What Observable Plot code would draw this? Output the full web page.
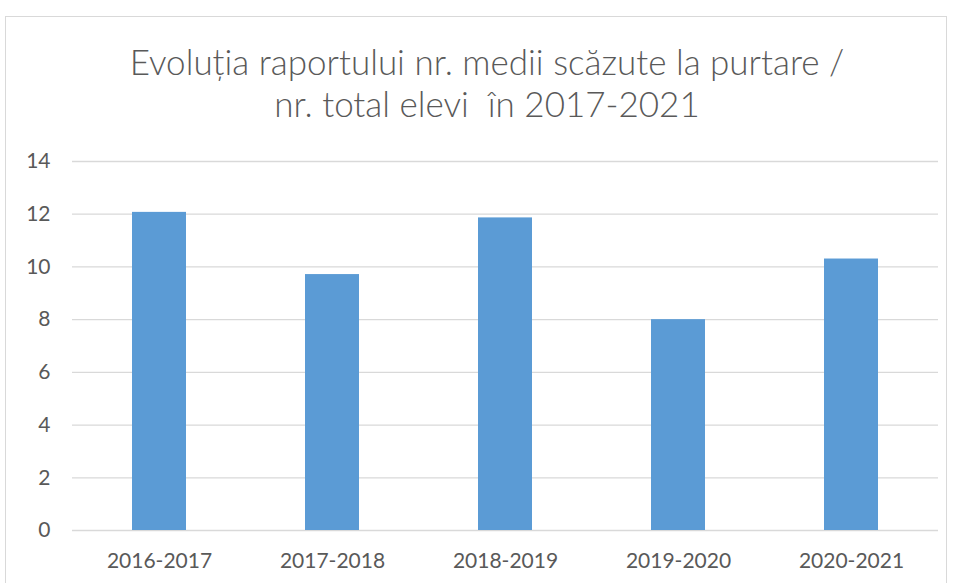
<!DOCTYPE html>
<html>
<head>
<meta charset="utf-8">
<script src="https://cdn.jsdelivr.net/npm/d3@7"></script>
<script src="https://cdn.jsdelivr.net/npm/@observablehq/plot@0.6"></script>
<style>
  html, body { margin: 0; padding: 0; background: #fff; }
  #wrap { position: relative; width: 953px; height: 583px; overflow: hidden; }
  #frame { position: absolute; left: 5px; top: 16px; width: 942px; height: 600px; border: 1px solid #d9d9d9; box-sizing: border-box; }
  #title { position: absolute; left: 16px; width: 942px; top: 40px; text-align: center; font-family: Lato, "Noto Sans", sans-serif; font-weight: 300; font-size: 35px; line-height: 42px; color: #595959; }
  #chart { position: absolute; left: 0; top: 0; }
  #chart svg text { font-size: 21px; fill: #595959; }
</style>
</head>
<body>
<div id="wrap">
  <div id="frame"></div>
  <div id="title">Evoluția raportului nr. medii scăzute la purtare /<br>nr. total elevi&nbsp; în 2017-2021</div>
  <div id="chart"></div>
</div>
<script>
const years = ["2016-2017", "2017-2018", "2018-2019", "2019-2020", "2020-2021"];
const values = [12.07, 9.71, 11.86, 8.0, 10.3];
const yTicks = [0, 2, 4, 6, 8, 10, 12, 14];

const data = years.map((y, i) => ({year: y, value: values[i]}));

const plot = Plot.plot({
  width: 953,
  height: 583,
  marginTop: 161,
  marginBottom: 53,
  marginLeft: 72,
  marginRight: 15,
  style: {fontFamily: "Lato, 'Noto Sans', sans-serif", fontSize: "21px", color: "#595959", background: "transparent"},
  x: {domain: years, paddingInner: 0.69, paddingOuter: 0.345, label: null},
  y: {domain: [0, 14], label: null},
  marks: [
    Plot.ruleY(yTicks, {stroke: "#d9d9d9", strokeWidth: 1.3}),
    Plot.barY(data, {x: "year", y: "value", fill: "#5B9BD5"}),
    Plot.axisY(yTicks, {tickSize: 0, tickPadding: 22, label: null, fill: "#595959"}),
    Plot.axisX({tickSize: 0, tickPadding: 23, label: null, fill: "#595959"})
  ]
});
document.getElementById("chart").appendChild(plot);
</script>
</body>
</html>
